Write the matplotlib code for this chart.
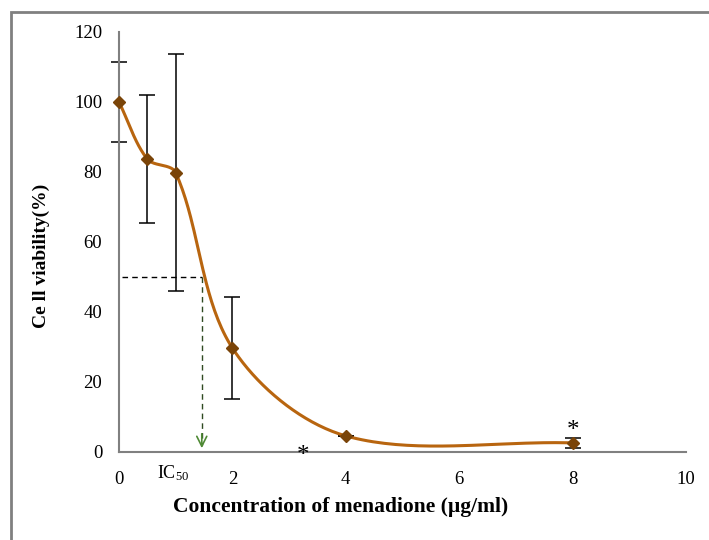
import numpy as np
import matplotlib.pyplot as plt
from matplotlib.patches import Rectangle

# data
conc = [0, 0.5, 1, 2, 4, 8]
viability = [100, 83.7, 79.8, 29.7, 4.6, 2.6]
err = [11.5, 18.2, 33.8, 14.6, 0.0, 1.4]
ic50_x = 1.46
ic50_y = 50
star_pts = [(3.25, -1.0), (8, 6.0)]

xticks = [0, 2, 4, 6, 8, 10]
yticks = [0, 20, 40, 60, 80, 100, 120]

line_col = '#b8650f'
marker_col = '#7a4408'

plt.rcParams['font.family'] = ['Liberation Serif', 'DejaVu Serif']
plt.rcParams['mathtext.fontset'] = 'custom'
plt.rcParams['mathtext.rm'] = 'Liberation Serif'
plt.rcParams['mathtext.it'] = 'Liberation Serif:italic'


def smooth(xs, ys, sx, sy, n=40):
    # smoothed line like a spreadsheet chart: bezier segments, chord-length tangents
    P = np.column_stack([np.array(xs) * sx, np.array(ys) * sy])
    d = np.linalg.norm(np.diff(P, axis=0), axis=1)
    out = []
    for i in range(len(P) - 1):
        p1, p2 = P[i], P[i + 1]
        if i > 0:
            c1 = p1 + (p2 - P[i - 1]) * d[i] / (d[i - 1] + d[i]) / 3.0
        else:
            c1 = p1 + (p2 - p1) / 3.0
        if i + 2 < len(P):
            c2 = p2 - (P[i + 2] - p1) * d[i] / (d[i] + d[i + 1]) / 3.0
        else:
            c2 = p2 - (p2 - p1) / 3.0
        t = np.linspace(0, 1, n)[:, None]
        seg = ((1 - t) ** 3) * p1 + 3 * ((1 - t) ** 2) * t * c1 + 3 * (1 - t) * t ** 2 * c2 + t ** 3 * p2
        out.append(seg if i == 0 else seg[1:])
    out = np.vstack(out)
    return out[:, 0] / sx, out[:, 1] / sy


fig = plt.figure(figsize=(7.09, 5.40), dpi=100)
fig.patches.append(Rectangle((10.5 / 709, -0.1), 1.2, 1 - 11.5 / 540 + 0.1,
                             transform=fig.transFigure, fill=False,
                             edgecolor='#808080', linewidth=2, zorder=0))

ax = fig.add_axes([119 / 709, 88 / 540, 567 / 709, 420 / 540])

sx, sy = 56.7, 3.5
cx, cy = smooth(conc, viability, sx, sy)
ax.plot(cx, cy, color=line_col, linewidth=2.2, zorder=3, clip_on=False)
eb = ax.errorbar(conc, viability, yerr=err, fmt='none', ecolor='black',
                 elinewidth=1.1, capsize=6, capthick=1.1, zorder=2)
for art in eb.lines[1] + eb.lines[2]:
    art.set_clip_on(False)
ax.plot(conc, viability, linestyle='none', marker='D', markersize=6.5,
        color=marker_col, zorder=4, clip_on=False)

# IC50 guide lines
ax.plot([0.05, ic50_x], [ic50_y, ic50_y], color='black', linestyle=(0, (4, 3)), linewidth=1)
ax.plot([ic50_x, ic50_x], [ic50_y, 2], color='#2f4a22', linestyle=(0, (4, 3)), linewidth=1)
ax.annotate('', xy=(ic50_x, 0.3), xytext=(ic50_x, 6),
            arrowprops=dict(arrowstyle='->', color='#4f8a35', lw=1.2,
                            mutation_scale=18))
ax.text(ic50_x - 0.5, -3.2, r'IC$_{\mathrm{50}}$', fontsize=13, ha='center', va='top')

for sxp, syp in star_pts:
    ax.text(sxp, syp, '*', fontsize=18, ha='center', va='center', color='black',
            clip_on=False)

ax.set_xlim(0, 10)
ax.set_ylim(0, 120)
ax.set_xticks(xticks)
ax.set_yticks(yticks)
ax.tick_params(length=0, labelsize=13.5, pad=14)
ax.tick_params(axis='y', pad=12)
for s in ['top', 'right']:
    ax.spines[s].set_visible(False)
for s in ['left', 'bottom']:
    ax.spines[s].set_color('#808080')
    ax.spines[s].set_linewidth(1.5)

ax.set_xlabel('Concentration of menadione (\u00b5g/ml)', fontsize=15.5,
              fontweight='bold')
ax.xaxis.set_label_coords((341 - 119) / 567, -(497 - 452) / 420)
ax.set_ylabel('Ce ll viability(%)', fontsize=14, fontweight='bold')
ax.yaxis.set_label_coords((50 - 119) / 567, (452 - 256) / 420)

fig.savefig('out.png', dpi=100)
